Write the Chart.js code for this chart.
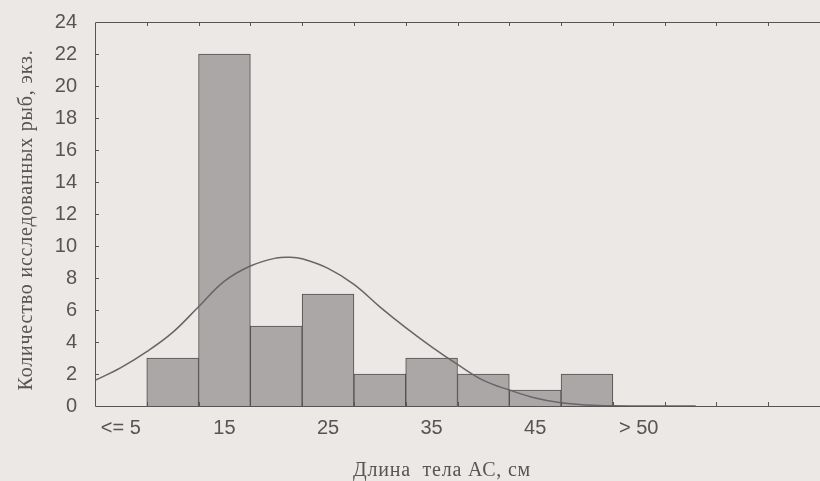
<!DOCTYPE html>
<html>
<head>
<meta charset="utf-8">
<script src="https://cdn.jsdelivr.net/npm/chart.js@4.4.1/dist/chart.umd.min.js"></script>
<style>
  html, body { margin: 0; padding: 0; background: #ebe8e5; overflow: hidden; }
  #wrap { width: 820px; height: 481px; }
</style>
</head>
<body>
<div id="wrap"><canvas id="js_fishChart"></canvas></div>
<script>
/*  eslint-disable no-undef */
// length classes (every other one is labelled on the axis)
const lengthBins = ['<= 5', '10', '15', '20', '25', '30', '35', '40', '45', '50', '> 50', '', '', ''];
const fishCounts = [0, 3, 22, 5, 7, 2, 3, 2, 1, 2, 0, 0, 0, 0];

// fitted normal curve (x in class widths from the left edge)
const curveX = [0, 0.5, 1, 1.5, 2, 2.5, 3, 3.5, 3.75, 4, 4.5, 5, 5.5, 6, 6.5, 7, 7.5, 8, 8.5, 9, 9.5, 10, 11, 11.6];
const curveY = [1.6, 2.4, 3.4, 4.6, 6.2, 7.8, 8.75, 9.25, 9.3, 9.2, 8.6, 7.6, 6.2, 4.9, 3.7, 2.6, 1.6, 1.0, 0.5, 0.2, 0.07, 0.02, 0, 0];

const yMax = 24;
const yStep = 2;

const inkColor = '#555555';
const tickFont = { family: "'Liberation Sans', Arial, sans-serif", size: 20 };
const titleFont = "20px 'Liberation Serif', 'Times New Roman', serif";

// frame + inward tick marks, plus the two axis titles
const frame = {
  id: 'frame',
  afterDraw(chart) {
    const { ctx, chartArea } = chart;
    const { left, top, right, bottom } = chartArea;
    const xc = chart.scales.xc;
    const y = chart.scales.y;
    ctx.save();
    ctx.strokeStyle = inkColor;
    ctx.lineWidth = 1;
    ctx.beginPath();
    ctx.moveTo(right, top + 0.5);
    ctx.lineTo(left + 0.5, top + 0.5);
    ctx.lineTo(left + 0.5, bottom + 0.5);
    ctx.lineTo(right, bottom + 0.5);
    for (let i = 1; i < lengthBins.length; i += 1) {
      const px = Math.round(xc.getPixelForValue(i)) + 0.5;
      ctx.moveTo(px, top);
      ctx.lineTo(px, top + 4);
      ctx.moveTo(px, bottom);
      ctx.lineTo(px, bottom - 4);
    }
    for (let v = yStep; v < yMax; v += yStep) {
      const py = Math.round(y.getPixelForValue(v)) + 0.5;
      ctx.moveTo(left, py);
      ctx.lineTo(left + 4, py);
    }
    ctx.stroke();

    ctx.fillStyle = inkColor;
    ctx.font = titleFont;
    ctx.letterSpacing = '0.8px';
    ctx.textAlign = 'center';
    ctx.textBaseline = 'middle';
    ctx.fillText('Длина  тела АС, см', left + 347, bottom + 65);
    ctx.translate(27, (top + bottom) / 2 + 6);
    ctx.rotate(-Math.PI / 2);
    ctx.fillText('Количество исследованных рыб, экз.', 0, 0);
    ctx.restore();
  },
};

document.addEventListener('DOMContentLoaded', () => {
  const ctx = document.getElementById('js_fishChart');

  new Chart(ctx, {
    type: 'bar',
    data: {
      labels: lengthBins,
      datasets: [{
        type: 'line',
        data: curveX.map((x, i) => ({ x, y: curveY[i] })),
        xAxisID: 'xc',
        borderColor: '#666666',
        borderWidth: 1.5,
        pointRadius: 0,
        tension: 0.4,
        fill: false,
        order: 1,
      }, {
        data: fishCounts,
        backgroundColor: '#aaa7a6',
        borderColor: '#505050',
        borderWidth: 1,
        barPercentage: 1,
        categoryPercentage: 1,
        grouped: false,
        order: 2,
      }],
    },
    options: {
      responsive: true,
      maintainAspectRatio: false,
      animation: false,
      layout: { padding: { top: 14, right: 0, left: 0, bottom: 0 } },
      plugins: {
        legend: { display: false },
        tooltip: { enabled: false },
      },
      scales: {
        x: {
          type: 'category',
          offset: true,
          grid: { display: false },
          border: { display: false },
          ticks: {
            autoSkip: false,
            maxRotation: 0,
            color: inkColor,
            font: tickFont,
            padding: 2,
            callback: (value, index) => (index % 2 === 0 ? lengthBins[index] : ''),
          },
          afterFit: (scale) => { scale.height = 75; },
        },
        xc: {
          type: 'linear',
          min: 0,
          max: lengthBins.length,
          offset: false,
          display: false,
        },
        y: {
          min: 0,
          max: yMax,
          grid: { display: false },
          border: { display: false },
          ticks: {
            stepSize: yStep,
            color: inkColor,
            font: tickFont,
            padding: 10,
          },
          afterFit: (scale) => { scale.width = 95; },
        },
      },
    },
    plugins: [frame],
  });
});
</script>
</body>
</html>
